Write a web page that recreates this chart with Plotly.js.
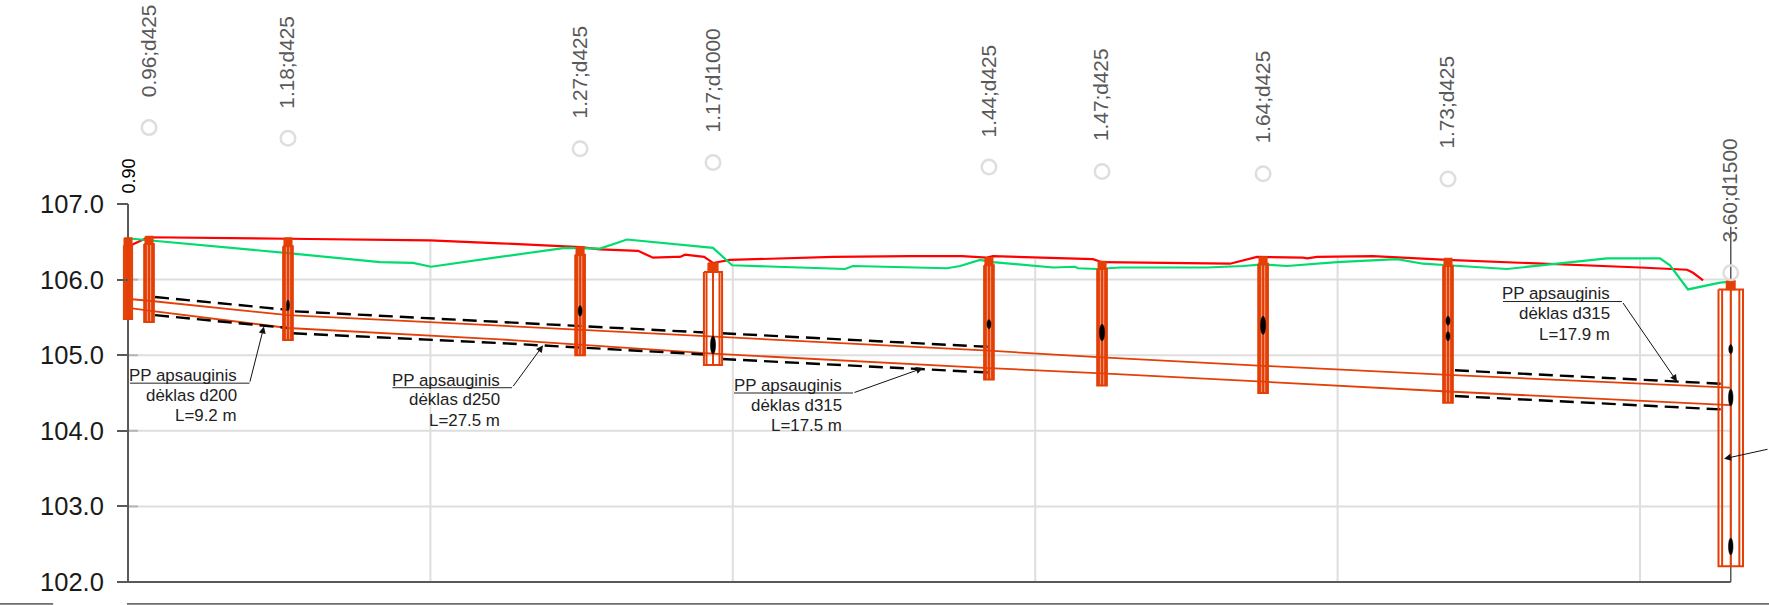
<!DOCTYPE html>
<html>
<head>
<meta charset="utf-8">
<script src="https://cdn.plot.ly/plotly-3.0.1.min.js"></script>
<style>html,body{margin:0;padding:0;background:#fff}#chart{width:1769px;height:605px}</style>
</head>
<body>
<div id="chart"></div>
<script>
// Ground / surface profiles
const redX = [0.26,1.12,1.39,10.58,19.97,24.6,29.96,31.22,33.73,34.72,36.18,36.51,36.84,38.1,38.69,39.81,46.63,51.72,55.16,56.81,57.21,63.82,64.42,72.88,74.67,77.71,77.98,78.64,82.34,87.24,100,103.11,103.51,104.17];
const redY = [106.46,106.54,106.56,106.54,106.52,106.48,106.43,106.40,106.38,106.29,106.30,106.30,106.33,106.30,106.22,106.26,106.30,106.31,106.31,106.29,106.31,106.27,106.23,106.21,106.30,106.29,106.28,106.30,106.31,106.26,106.16,106.13,106.09,105.99];
const greenX = [0.26,10.58,16.67,18.85,20.04,24.6,28.9,31.22,33.0,38.69,39.95,47.42,47.95,54.17,55.03,56.35,57.21,61.18,62.63,62.83,64.09,65.61,71.36,73.74,75.07,76.65,79.96,83.93,85.65,87.3,91.2,97.82,101.32,101.98,103.17,105.29,105.82];
const greenY = [106.54,106.35,106.23,106.22,106.17,106.30,106.42,106.41,106.53,106.42,106.19,106.14,106.18,106.15,106.18,106.26,106.23,106.16,106.17,106.15,106.14,106.16,106.16,106.18,106.20,106.18,106.23,106.27,106.21,106.19,106.14,106.28,106.28,106.19,105.87,105.96,105.97];

// Pipe walls
const pipeTopX = [0.26,1.39,10.58,24.6,56.94,64.42,75.07,87.3,105.95];
const pipeTopY = [105.74,105.72,105.53,105.39,105.06,104.97,104.86,104.74,104.57];
const pipeBotX = [0.26,1.39,10.58,24.6,38.69,56.94,64.42,75.07,87.3,105.95];
const pipeBotY = [105.62,105.59,105.36,105.21,105.02,104.83,104.76,104.65,104.52,104.34];

// Protective sleeves (dashed)
const sleeveTopX = [1.79,10.58,null,11.04,24.6,38.16,null,39.29,56.94,null,87.76,105.62];
const sleeveTopY = [105.77,105.60,null,105.58,105.44,105.30,null,105.29,105.11,null,104.80,104.62];
const sleeveBotX = [1.79,10.58,null,10.91,24.6,38.16,null,39.29,56.94,null,87.76,105.62];
const sleeveBotY = [105.53,105.36,null,105.29,105.16,105.01,null,104.95,104.77,null,104.46,104.28];

// Manholes
const wellX       = [0,1.39,10.58,29.9,38.69,56.94,64.42,75.07,87.3,106];
const wellNeckTop = [106.55,106.57,106.55,106.43,106.22,106.29,106.24,106.30,106.28,105.98];
const wellBodyTop = [106.45,106.47,106.44,106.33,106.10,106.19,106.14,106.21,106.18,105.87];
const wellBottom  = [105.48,105.44,105.20,105.00,104.87,104.68,104.60,104.50,104.37,102.21];
const wellHalf    = [0.27,0.32,0.32,0.32,0.6,0.32,0.32,0.32,0.32,0.81];
const wellInner   = [0.13,0.21,0.21,0.21,0.43,0.21,0.21,0.21,0.21,0.57];
const neckHalf    = [0.25,0.25,0.25,0.25,0.32,0.25,0.25,0.25,0.25,0.28];

// Black connection marks on manholes
const markX  = [10.58,29.9,38.69,56.94,64.42,75.07,87.3,87.3,106,106,106];
const markY  = [105.66,105.585,105.135,105.41,105.30,105.395,105.456,105.25,105.08,104.44,102.47];
const markRX = [0.1,0.13,0.17,0.13,0.17,0.17,0.13,0.13,0.13,0.15,0.15];
const markRY = [0.07,0.07,0.12,0.06,0.11,0.12,0.06,0.06,0.06,0.11,0.11];

// Upper labels
const topX = [1.39,10.58,29.9,38.69,56.94,64.42,75.07,87.3,106];
const topY = [108.01,107.87,107.73,107.55,107.49,107.43,107.40,107.33,106.09];
const topLabels = ['0.96;d425','1.18;d425','1.27;d425','1.17;d1000','1.44;d425','1.47;d425','1.64;d425','1.73;d425','3.60;d1500'];

// Axes
const yTicks = [102,103,104,105,106,107];
const yGridVals = [102,103,104,105,106];
const xGridVals = [20,40,60,80,100];
const xGridTops = [106.52,106.26,106.27,106.29,106.26];
const xEnd = 106;
const xRange = [-8.466,108.53];
const yRange = [101.696,109.698];
const leftLineTop = 107;
const rightLineTop = 106.7;
const frameY = 101.71;
const frameX = [-8.47,-4.95,null,-0.07,108.53];

// Callouts
const calloutLines = [
  ['PP apsauginis','dėklas d200','L=9.2 m'],
  ['PP apsauginis','dėklas d250','L=27.5 m'],
  ['PP apsauginis','dėklas d315','L=17.5 m'],
  ['PP apsauginis','dėklas d315','L=17.9 m']
];
const calloutRight = [7.3,24.64,47.26,98.1];
const calloutRows = [
  [104.73,104.47,104.20],
  [104.67,104.41,104.14],
  [104.60,104.34,104.07],
  [105.82,105.55,105.28]
];
const leaderX = [0.13,8.04,null,17.49,25.4,null,40.08,47.95,null,90.94,98.81];
const leaderY = [104.63,104.63,null,104.57,104.57,null,104.50,104.50,null,105.71,105.71];
const arrowTailX = [8.04,25.4,47.95,98.81,108.53];
const arrowTailY = [104.63,104.57,104.50,105.71,103.76];
const arrowHeadX = [8.99,27.45,52.58,102.45,105.56];
const arrowHeadY = [105.38,105.13,104.83,104.65,103.63];

const ORANGE = '#e43f06', GRID = '#dedede', AXIS = '#595959', INK = '#222222';
const FONT = '"Liberation Sans", Arial, sans-serif';

function line(x, y, color, width, extra) {
  return Object.assign({type:'scatter', mode:'lines', x, y, cliponaxis:false, hoverinfo:'skip',
    line:{color, width, simplify:false}}, extra || {});
}
function rectPath(cx, half, top, bot) {
  return {x:[cx-half,cx+half,cx+half,cx-half,cx-half,null], y:[top,top,bot,bot,top,null]};
}
function collect(parts) {
  const x = [], y = [];
  parts.forEach(p => { x.push(...p.x); y.push(...p.y); });
  return {x, y};
}

const traces = [];

// grid
const gridH = {x:[], y:[]};
yGridVals.forEach(v => { gridH.x.push(0, xEnd, null); gridH.y.push(v, v, null); });
traces.push(line(gridH.x, gridH.y, GRID, 2));
const gridV = {x:[], y:[]};
xGridVals.forEach((v,i) => { gridV.x.push(v, v, null); gridV.y.push(yTicks[0], xGridTops[i], null); });
traces.push(line(gridV.x, gridV.y, GRID, 2));
const stub = {x:[], y:[]};
yTicks.forEach(v => { if (v < 107) { stub.x.push(0, 0.66, null); stub.y.push(v, v, null); } });
traces.push(line(stub.x, stub.y, '#b5b5b5', 2));
// axis lines
traces.push(line([0,0], [yTicks[0], leftLineTop], AXIS, 2));
traces.push(line([xEnd,xEnd], [yTicks[0], rightLineTop], AXIS, 1.5));
traces.push(line([0,xEnd], [yTicks[0], yTicks[0]], AXIS, 2));
// bottom frame line
traces.push(line(frameX, frameX.map(v => v === null ? null : frameY), '#000000', 1));

// profiles
traces.push(line(redX, redY, '#ff0000', 2.2));
traces.push(line(greenX, greenY, '#00dc6e', 2.2));
// pipes
traces.push(line(pipeTopX, pipeTopY, ORANGE, 1.8));
traces.push(line(pipeBotX, pipeBotY, ORANGE, 1.8));
// sleeves
traces.push(line(sleeveTopX, sleeveTopY, '#000000', 2.4, {line:{color:'#000000',width:2.4,dash:'14px,7px'}}));
traces.push(line(sleeveBotX, sleeveBotY, '#000000', 2.4, {line:{color:'#000000',width:2.4,dash:'14px,7px'}}));

// wells
wellX.forEach((cx,i) => {
  const filled = wellHalf[i] < 0.5;
  const outer = rectPath(cx, wellHalf[i], wellBodyTop[i], wellBottom[i]);
  traces.push(line(outer.x, outer.y, ORANGE, 2, filled ? {fill:'toself', fillcolor:'rgba(228,63,6,0.55)'} : {}));
  const inner = collect([
    {x:[cx-wellInner[i],cx-wellInner[i],null], y:[wellBodyTop[i],wellBottom[i],null]},
    {x:[cx+wellInner[i],cx+wellInner[i],null], y:[wellBodyTop[i],wellBottom[i],null]},
    {x:[cx,cx,null], y:[wellBodyTop[i],wellBottom[i],null]}
  ]);
  traces.push(line(inner.x, inner.y, ORANGE, 2));
  const neck = rectPath(cx, neckHalf[i], wellNeckTop[i], wellBodyTop[i]);
  traces.push(line(neck.x, neck.y, ORANGE, 1.5, {fill:'toself', fillcolor:ORANGE}));
});

// black marks (ellipses)
const ell = {x:[], y:[]};
markX.forEach((cx,i) => {
  for (let k = 0; k <= 24; k++) {
    const t = k / 24 * 2 * Math.PI;
    ell.x.push(cx + markRX[i] * Math.cos(t));
    ell.y.push(markY[i] + markRY[i] * Math.sin(t));
  }
  ell.x.push(null); ell.y.push(null);
});
traces.push(line(ell.x, ell.y, '#000000', 0.5, {fill:'toself', fillcolor:'#000000'}));

// leaders
traces.push(line(leaderX, leaderY, INK, 1));

// top circles
traces.push({type:'scatter', mode:'markers', x:topX, y:topY, cliponaxis:false, hoverinfo:'skip',
  marker:{symbol:'circle-open', size:14.5, color:GRID, line:{color:GRID, width:2.5}}});

const annotations = [];
topX.forEach((x,i) => annotations.push({
  x, y:topY[i], xref:'x', yref:'y', text:topLabels[i], textangle:-90, showarrow:false,
  xanchor:'center', yanchor:'bottom', yshift:28, xshift:-1,
  font:{family:FONT, size:20.8, color:'#595959'}
}));
annotations.push({x:0, y:leftLineTop, xref:'x', yref:'y', text:'0.90', textangle:-90, showarrow:false,
  xanchor:'center', yanchor:'bottom', yshift:8, xshift:1, font:{family:FONT, size:18, color:'#000000'}});

calloutLines.forEach((rows,i) => rows.forEach((t,j) => annotations.push({
  x:calloutRight[i], y:calloutRows[i][j], xref:'x', yref:'y', text:t, showarrow:false,
  xanchor:'right', yanchor:'middle', borderpad:0,
  font:{family:FONT, size:16.9, color:INK}
})));

arrowHeadX.forEach((x,i) => annotations.push({
  x, y:arrowHeadY[i], xref:'x', yref:'y', axref:'x', ayref:'y',
  ax:arrowTailX[i], ay:arrowTailY[i], showarrow:true, arrowhead:2, arrowsize:1.4, arrowwidth:1,
  arrowcolor:'#111111', text:''
}));

const layout = {
  width:1769, height:605, showlegend:false,
  paper_bgcolor:'#ffffff', plot_bgcolor:'#ffffff',
  margin:{l:0, r:0, t:0, b:0, pad:0},
  font:{family:FONT},
  xaxis:{range:xRange, visible:false, fixedrange:true},
  yaxis:{range:yRange, anchor:'free', position:128/1769, showgrid:false, zeroline:false, showline:false,
    tickmode:'array', tickvals:yTicks, ticktext:yTicks.map(v => v.toFixed(1)),
    ticks:'outside', ticklen:11, tickwidth:2, tickcolor:AXIS, ticklabelstandoff:8,
    tickfont:{family:FONT, size:25.5, color:'#1a1a1a'}, fixedrange:true},
  annotations
};
Plotly.newPlot('chart', traces, layout, {displayModeBar:false, staticPlot:true});
</script>
</body>
</html>
